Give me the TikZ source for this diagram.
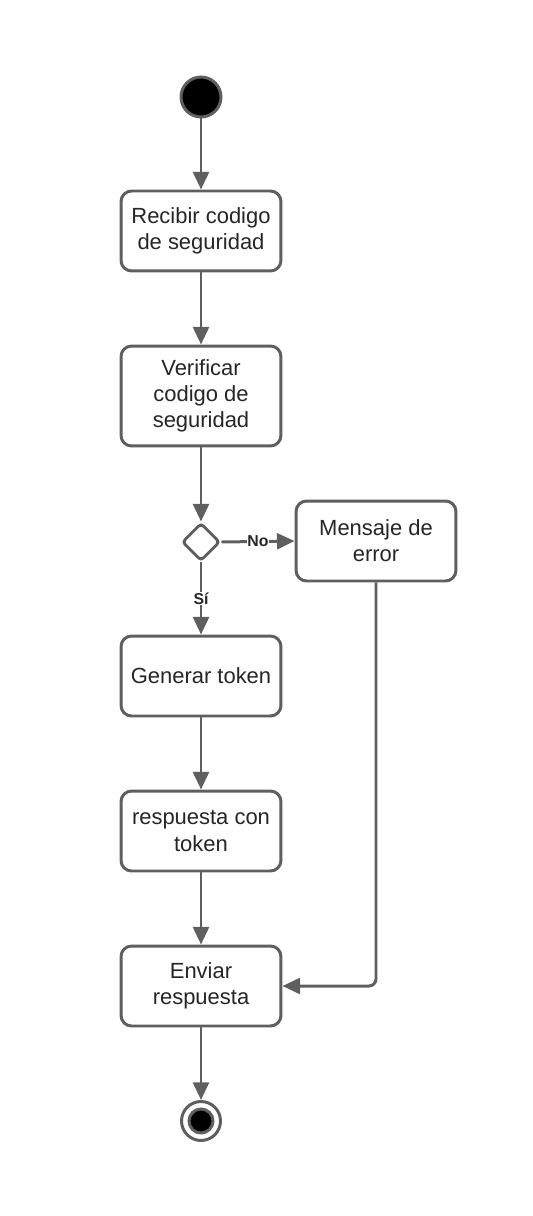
\documentclass[tikz,border=0pt]{standalone}
\usepackage{fontspec}
\setmainfont{Liberation Sans}
\usetikzlibrary{arrows.meta,shapes.geometric}
\definecolor{linegray}{HTML}{5F5F5F}
\tikzset{
  act/.style={draw=linegray, line width=1.7pt, rounded corners=6pt, fill=white,
    minimum width=3.2cm, minimum height=1.6cm, align=center, inner sep=2pt,
    font=\fontsize{12.5}{14.8}\selectfont, text=black!85},
  flow/.style={draw=linegray, line width=1.7pt, -{Triangle[width=9pt,length=10pt]}},
  guard/.style={font=\bfseries\fontsize{9}{10}\selectfont, text=black!85, fill=white, inner sep=0.3pt}
}
\begin{document}
\begin{tikzpicture}[x=0.02cm, y=-0.02cm]
  \useasboundingbox (0,0) rectangle (533,1216);

  % --- START ---
  \node[circle, draw=linegray, line width=1.7pt, fill=black, minimum size=0.8cm, inner sep=0pt] (start) at (201,97) {};

  % --- ACTIVITIES ---
  \node[act] (recibir) at (201,231) {Recibir codigo\\de seguridad};
  \node[act, minimum height=2cm] (verificar) at (201,396) {Verificar\\codigo de\\seguridad};
  \node[diamond, draw=linegray, line width=1.7pt, fill=white, minimum width=0.76cm, minimum height=0.76cm, inner sep=0pt, rounded corners=2pt] (decision) at (201,542) {};
  \node[act] (error) at (376,541) {Mensaje de\\error};
  \node[act] (generar) at (201,676) {Generar token};
  \node[act] (respuesta) at (201,831) {respuesta con\\token};
  \node[act] (enviar) at (201,986) {Enviar\\respuesta};

  % --- END ---
  \node[circle, draw=linegray, line width=1.7pt, fill=white, minimum size=0.78cm, inner sep=0pt] (fin) at (201,1121) {};
  \node[circle, draw=linegray, line width=1.7pt, fill=black, minimum size=0.48cm, inner sep=0pt] (findot) at (fin) {};

  % --- CONNECTORS ---
  \draw[flow] (start) -- (recibir);
  \draw[flow] (recibir) -- (verificar);
  \draw[flow] (verificar) -- (decision);
  \draw[flow] (decision.east) -- node[guard] {No} (error.west);
  \draw[flow] (decision.south) -- node[guard] {Sí} (generar.north);
  \draw[flow] (generar) -- (respuesta);
  \draw[flow] (respuesta) -- (enviar);
  \draw[flow, rounded corners=4pt] (error.south) |- (enviar.east);
  \draw[flow] (enviar) -- (fin);

\end{tikzpicture}
\end{document}
